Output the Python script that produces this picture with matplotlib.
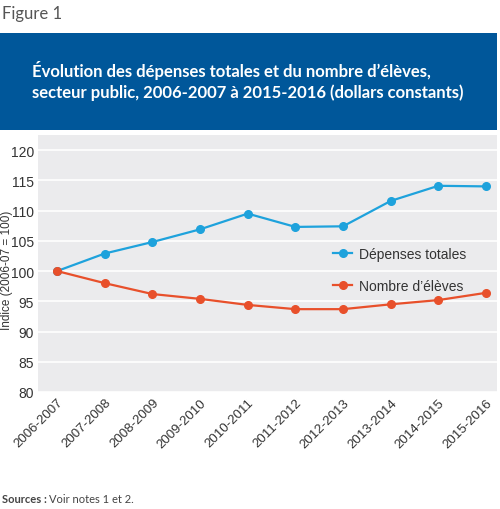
import numpy as np
import matplotlib.pyplot as plt
from matplotlib.patches import Rectangle

annees = ['2006-2007', '2007-2008', '2008-2009', '2009-2010', '2010-2011',
          '2011-2012', '2012-2013', '2013-2014', '2014-2015', '2015-2016']
depenses = [100, 102.9, 104.8, 106.9, 109.5, 107.3, 107.4, 111.6, 114.1, 114.0]
eleves = [100, 98.0, 96.2, 95.4, 94.4, 93.7, 93.7, 94.5, 95.2, 96.4]
y_ticks = [80, 85, 90, 95, 100, 105, 110, 115, 120]

bleu = '#1ea2dc'
rouge = '#e8502b'
gris_txt = '#333333'

plt.rcParams['font.family'] = ['Liberation Sans', 'DejaVu Sans']

fig = plt.figure(figsize=(5, 5.1), dpi=100)

# bandeau titre
fig.patches.append(Rectangle((0, 1 - 131/510), 497/500, 97/510, transform=fig.transFigure,
                             facecolor='#00579a', edgecolor='none', zorder=0))
fig.text(0.004, 1 - 14/510, 'Figure 1', fontsize=12, color='#555555', va='center',
         family='Lato')
fig.text(32/500, 1 - 71/510, 'Évolution des dépenses totales et du nombre d’élèves,',
         fontsize=12, color='white', fontweight='bold', va='center', family='Lato')
fig.text(32/500, 1 - 93/510, 'secteur public, 2006-2007 à 2015-2016 (dollars constants)',
         fontsize=12, color='white', fontweight='bold', va='center', family='Lato')

ax = fig.add_axes([38/500, 1 - 393/510, 459/500, 257/510])
ax.set_facecolor('#ebebed')
x = np.arange(len(annees))
ax.plot(x, depenses, color=bleu, marker='o', markersize=5.5, lw=1.6, label='Dépenses totales', zorder=3)
ax.plot(x, eleves, color=rouge, marker='o', markersize=5.5, lw=1.6, label='Nombre d’élèves', zorder=3)

ax.set_ylim(80, 122.5)
ax.set_xlim(-0.4, 9.23)
ax.set_yticks(y_ticks)
ax.set_xticks(x)
ax.set_xticklabels(annees, rotation=45, ha='right', rotation_mode='anchor',
                   fontsize=9.5, color=gris_txt)
ax.tick_params(axis='y', labelsize=10, labelcolor=gris_txt)
ax.grid(axis='y', color='white', lw=1.2)
ax.set_axisbelow(True)
ax.tick_params(length=0, pad=3)
for s in ax.spines.values():
    s.set_visible(False)

# titre de l'axe y, place a la main pour rester dans la figure
fig.text(7/500, 1 - 270/510, 'Indice (2006-07 = 100)', rotation=90, fontsize=8.5,
         color=gris_txt, ha='center', va='center')

ax.legend(loc='center left', bbox_to_anchor=(0.615, 0.475), frameon=False,
          prop={'size': 10}, labelspacing=1.3, handlelength=1.4, handletextpad=0.5,
          labelcolor=gris_txt)

fig.text(0.004, 1 - 500/510, 'Sources :', fontsize=8, color='#444444', fontweight='bold',
         va='center', family='Lato')
fig.text(0.098, 1 - 500/510, 'Voir notes 1 et 2.', fontsize=8, color='#444444',
         va='center', family='Lato')

fig.savefig('out.png', dpi=100)
